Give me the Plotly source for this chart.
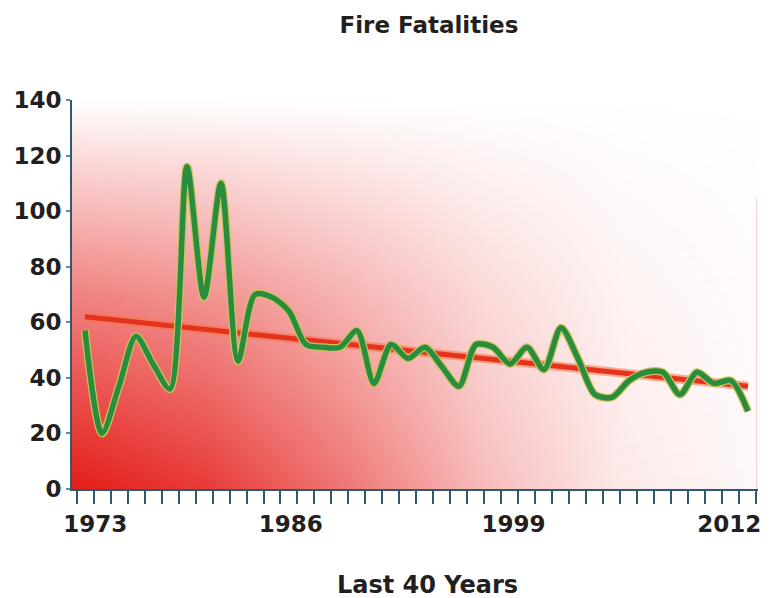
import base64
import plotly.graph_objects as go

# Fire fatalities per year
years = list(range(1973, 2013))
fatalities = [57, 20, 37, 55, 45, 36, 116, 69, 110, 46,
              70, 69, 64, 52, 51, 51, 57, 38, 52, 47,
              51, 44, 37, 52, 51, 45, 51, 43, 58, 47,
              34, 33, 39, 42, 42, 34, 42, 38, 39, 28]

trend_years = [1973, 2012]
trend_values = [62, 37]

tick_labels = ["1973", "1986", "1999", "2012"]
tick_pos = [1973.6, 1985.1, 1998.2, 2010.9]

FONT = "DejaVu Sans"
TXT = "#231f20"
AXIS = "#2f5a6e"

# red wash in the plot area, strongest at the bottom left
svg = """<svg xmlns="http://www.w3.org/2000/svg" width="200" height="200" viewBox="0 0 200 200" preserveAspectRatio="none">
<defs>
<linearGradient id="v" x1="0" y1="1" x2="0" y2="0">
<stop offset="0" stop-color="#e41c18" stop-opacity="1"/>
<stop offset="0.5" stop-color="#e41c18" stop-opacity="0.55"/>
<stop offset="1" stop-color="#e41c18" stop-opacity="0"/>
</linearGradient>
<linearGradient id="h" x1="0" y1="0" x2="1" y2="0">
<stop offset="0" stop-color="#fff" stop-opacity="1"/>
<stop offset="0.2" stop-color="#fff" stop-opacity="0.86"/>
<stop offset="0.4" stop-color="#fff" stop-opacity="0.6"/>
<stop offset="0.6" stop-color="#fff" stop-opacity="0.3"/>
<stop offset="0.8" stop-color="#fff" stop-opacity="0.1"/>
<stop offset="1" stop-color="#fff" stop-opacity="0.03"/>
</linearGradient>
<mask id="m" x="0" y="0" width="200" height="200" maskUnits="userSpaceOnUse">
<rect x="0" y="0" width="200" height="200" fill="url(#h)"/>
</mask>
</defs>
<rect x="0" y="0" width="200" height="200" fill="url(#v)" mask="url(#m)"/>
</svg>"""
bg_src = "data:image/svg+xml;base64," + base64.b64encode(svg.encode()).decode()

fig = go.Figure()

# trend line with a soft orange edge
fig.add_trace(go.Scatter(x=trend_years, y=trend_values, mode="lines",
                         line=dict(color="rgba(245,120,70,0.6)", width=9),
                         hoverinfo="skip", showlegend=False))
fig.add_trace(go.Scatter(x=trend_years, y=trend_values, mode="lines",
                         line=dict(color="#e4321e", width=5),
                         name="Trend", showlegend=False))

# fatalities curve, yellowish rim under the green
fig.add_trace(go.Scatter(x=years, y=fatalities, mode="lines",
                         line=dict(color="#c9c45a", width=8, shape="spline", smoothing=0.8),
                         hoverinfo="skip", showlegend=False))
fig.add_trace(go.Scatter(x=years, y=fatalities, mode="lines",
                         line=dict(color="#2a8c3e", width=5.5, shape="spline", smoothing=0.8),
                         name="Fatalities", showlegend=False))

fig.update_layout(
    width=775, height=598,
    margin=dict(l=72, r=17, t=100, b=109),
    paper_bgcolor="white",
    plot_bgcolor="rgba(0,0,0,0)",
    title=dict(text="Fire Fatalities", x=0.5535, xanchor="center",
               y=1 - 25 / 598, yanchor="middle", yref="container",
               font=dict(family=FONT, size=23, color=TXT, weight="bold")),
    images=[dict(source=bg_src, xref="paper", yref="paper", x=0, y=1,
                 sizex=1, sizey=1, sizing="stretch", layer="below")],
    shapes=[dict(type="line", xref="paper", yref="paper", x0=0.998, x1=0.998,
                 y0=0, y1=0.75, line=dict(color="rgba(240,170,170,0.5)", width=1))],
    annotations=[dict(text="Last 40 Years", xref="paper", yref="paper",
                      x=0.5175, y=(489 - 585) / 389, xanchor="center", yanchor="middle",
                      showarrow=False,
                      font=dict(family=FONT, size=24, color=TXT, weight="bold"))],
)

fig.update_xaxes(
    range=[1972.235, 2012.59], automargin=False,
    showline=True, linecolor=AXIS, linewidth=2,
    showgrid=False, zeroline=False,
    tickmode="array", tickvals=tick_pos, ticktext=tick_labels,
    ticks="outside", ticklen=13, tickcolor="rgba(0,0,0,0)",
    tickfont=dict(family=FONT, size=23, color=TXT, weight="bold"),
    minor=dict(ticks="outside", ticklen=13, tickwidth=2, tickcolor=AXIS,
               tick0=1972.5, dtick=1, showgrid=False),
)

fig.update_yaxes(
    range=[0, 140], automargin=False,
    showline=True, linecolor=AXIS, linewidth=2,
    showgrid=False, zeroline=False,
    tickmode="linear", tick0=0, dtick=20,
    ticks="outside", ticklen=4, tickwidth=1.5, tickcolor="#6a8a99",
    tickfont=dict(family=FONT, size=23, color=TXT, weight="bold"),
)

fig.write_html("out.html", config={"displayModeBar": False},
               post_script="document.body.style.margin='0';")
